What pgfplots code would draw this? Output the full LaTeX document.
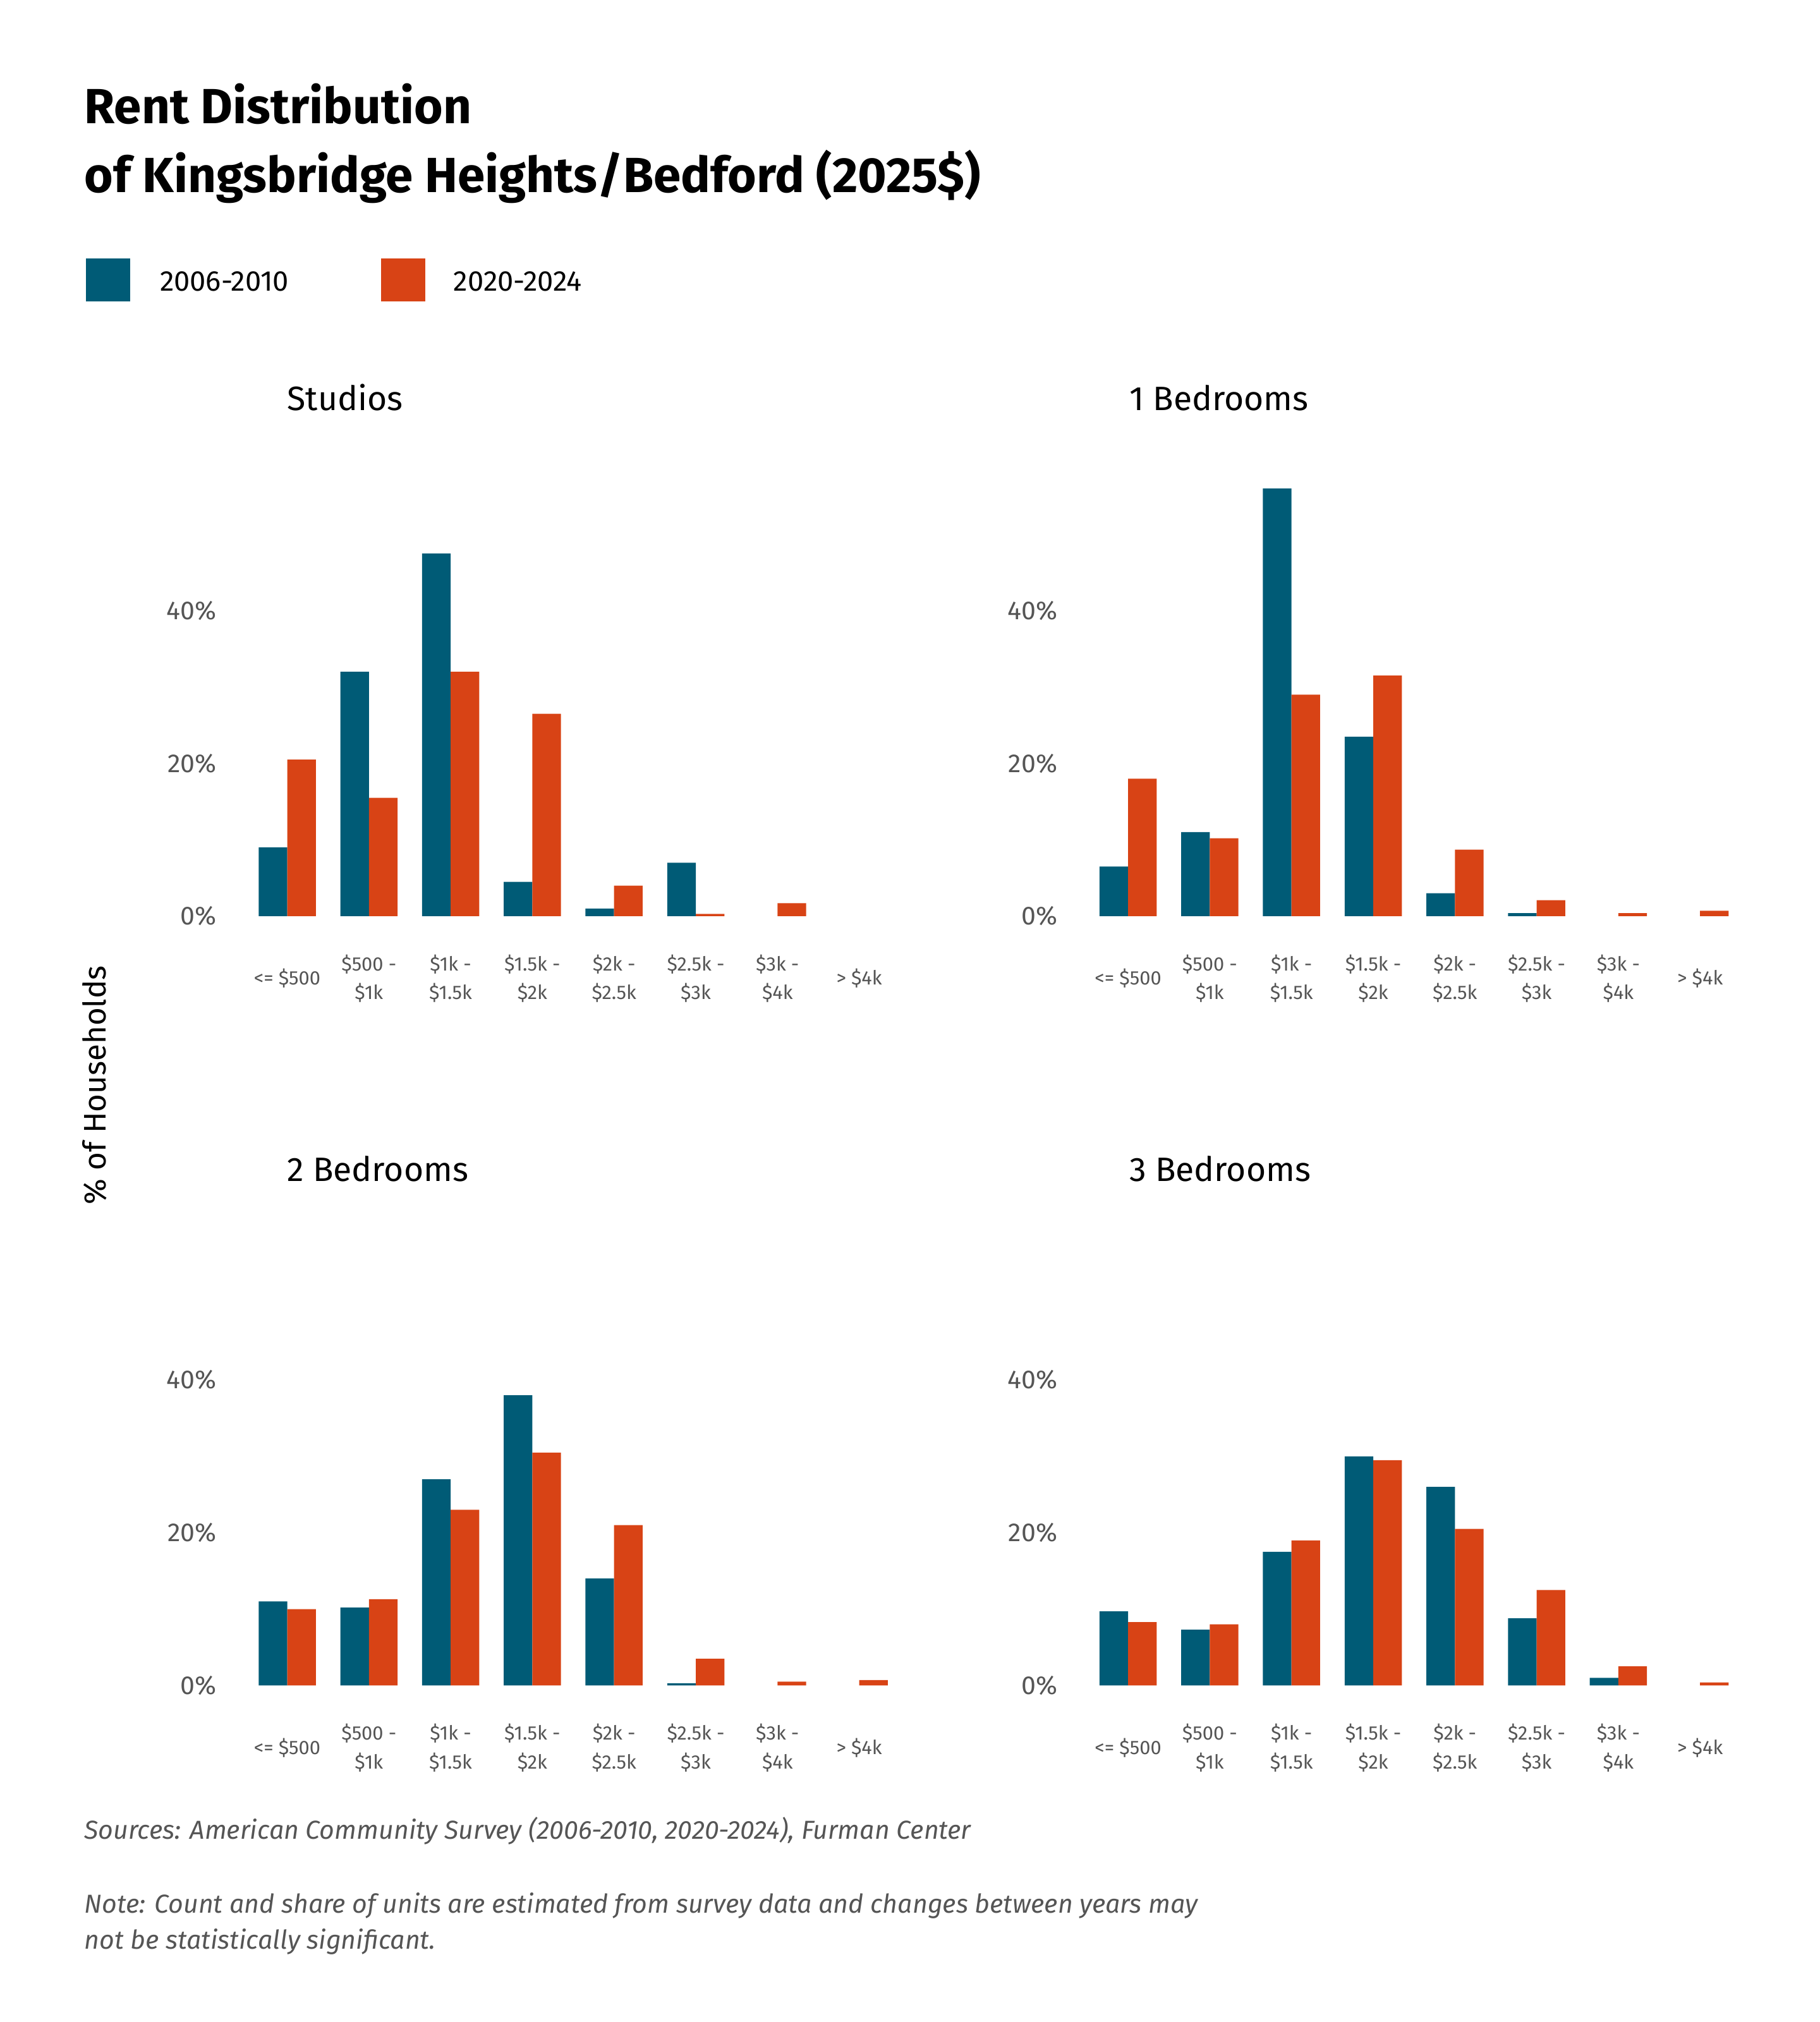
\documentclass[border=0pt]{standalone}
\usepackage{pgfplots}
\pgfplotsset{compat=1.18}
\usepackage{fontspec}
\setmainfont{Fira Sans}
\definecolor{cblue}{HTML}{005B76}
\definecolor{cred}{HTML}{D84315}
\definecolor{tgray}{HTML}{555555}
\pgfplotsset{panel/.style={
  scale only axis, width=251.5pt, height=161.6pt, anchor=origin,
  xmin=-0.5, xmax=7.5, ymin=0, ymax=55,
  axis lines=left, axis line style={draw=none}, ybar, bar width=11pt,
  xtick={0,...,7}, xticklabels={{<= \$500},{\$500 -\\\$1k},{\$1k -\\\$1.5k},{\$1.5k -\\\$2k},{\$2k -\\\$2.5k},{\$2.5k -\\\$3k},{\$3k -\\\$4k},{> \$4k}},
  xticklabel style={anchor=center, align=center, yshift=-24pt, font=\fontsize{7.5}{11}\selectfont, text=tgray},
  ytick={0,20,40}, yticklabels={0\%,20\%,40\%},
  yticklabel style={anchor=east, xshift=-8pt, font=\fontsize{10}{12}\selectfont, text=tgray},
  major tick length=0pt, tick style={draw=none}, clip=false,
}}
\begin{document}
\begin{tikzpicture}
\path[use as bounding box] (0,0) rectangle (700pt,-778pt);
\node[anchor=base west,font=\fontsize{19}{22}\selectfont\bfseries] at (29pt,-47.5pt) {Rent Distribution};
\node[anchor=base west,font=\fontsize{19}{22}\selectfont\bfseries] at (29pt,-74pt) {of Kingsbridge Heights/Bedford (2025\$)};
\fill[cblue] (33pt,-99.5pt) rectangle (50pt,-116pt);
\node[anchor=base west,font=\fontsize{11}{13}\selectfont] at (58pt,-112pt) {2006-2010};
\fill[cred] (146.5pt,-99.5pt) rectangle (163.5pt,-116pt);
\node[anchor=base west,font=\fontsize{11}{13}\selectfont] at (171pt,-112pt) {2020-2024};
\node[anchor=base west,font=\fontsize{13}{15}\selectfont] at (107pt,-158pt) {Studios};
\node[anchor=base west,font=\fontsize{13}{15}\selectfont] at (431pt,-158pt) {1 Bedrooms};
\node[anchor=base west,font=\fontsize{13}{15}\selectfont] at (107pt,-454.5pt) {2 Bedrooms};
\node[anchor=base west,font=\fontsize{13}{15}\selectfont] at (431pt,-454.5pt) {3 Bedrooms};
\node[rotate=90,font=\fontsize{12}{14}\selectfont] at (36.5pt,-417.5pt) {\% of Households};
\node[anchor=base west,font=\fontsize{10}{12}\selectfont\itshape,text=tgray] at (29pt,-707.5pt) {Sources: American Community Survey (2006-2010, 2020-2024), Furman Center};
\node[anchor=base west,font=\fontsize{10}{12}\selectfont\itshape,text=tgray] at (29pt,-736pt) {Note: Count and share of units are estimated from survey data and changes between years may};
\node[anchor=base west,font=\fontsize{10}{12}\selectfont\itshape,text=tgray] at (29pt,-750pt) {not be statistically significant.};
\begin{axis}[panel, at={(110.5pt,-352.5pt)}]
\addplot[fill=cblue,draw=none,bar shift=-5.5pt] coordinates {(0,9)(1,32)(2,47.5)(3,4.5)(4,1)(5,7)};
\addplot[fill=cred,draw=none,bar shift=5.5pt] coordinates {(0,20.5)(1,15.5)(2,32)(3,26.5)(4,4)(5,0.3)(6,1.7)};
\end{axis}
\begin{axis}[panel, at={(434pt,-352.5pt)}]
\addplot[fill=cblue,draw=none,bar shift=-5.5pt] coordinates {(0,6.5)(1,11)(2,56)(3,23.5)(4,3)(5,0.4)};
\addplot[fill=cred,draw=none,bar shift=5.5pt] coordinates {(0,18)(1,10.2)(2,29)(3,31.5)(4,8.7)(5,2.1)(6,0.4)(7,0.7)};
\end{axis}
\begin{axis}[panel, at={(110.5pt,-648.5pt)}]
\addplot[fill=cblue,draw=none,bar shift=-5.5pt] coordinates {(0,11)(1,10.2)(2,27)(3,38)(4,14)(5,0.3)};
\addplot[fill=cred,draw=none,bar shift=5.5pt] coordinates {(0,10)(1,11.3)(2,23)(3,30.5)(4,21)(5,3.5)(6,0.5)(7,0.7)};
\end{axis}
\begin{axis}[panel, at={(434pt,-648.5pt)}]
\addplot[fill=cblue,draw=none,bar shift=-5.5pt] coordinates {(0,9.7)(1,7.3)(2,17.5)(3,30)(4,26)(5,8.8)(6,1)};
\addplot[fill=cred,draw=none,bar shift=5.5pt] coordinates {(0,8.3)(1,8)(2,19)(3,29.5)(4,20.5)(5,12.5)(6,2.5)(7,0.4)};
\end{axis}
\end{tikzpicture}
\end{document}
